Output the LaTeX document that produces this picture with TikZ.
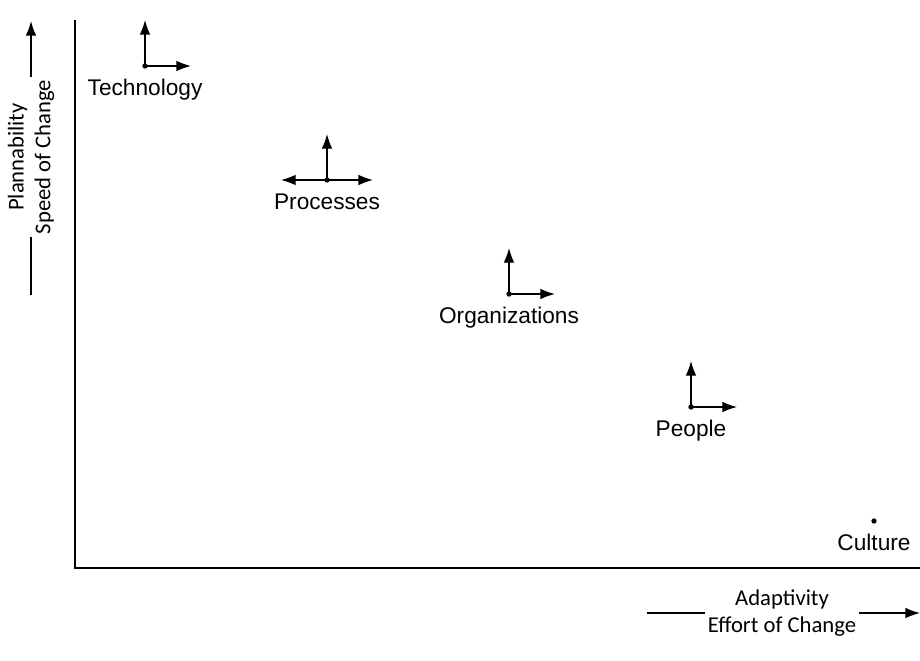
\documentclass[tikz,border=0pt]{standalone}
\usepackage{fontspec}
\setmainfont{Liberation Sans}
\newfontfamily\axisfont{Carlito}
\usetikzlibrary{calc,arrows.meta}

\begin{document}
\begin{tikzpicture}[x=.75pt,y=-.75pt,
    arr/.style={line width=1pt,black,-{Latex[length=11pt,width=8pt]}},
    lbl/.style={anchor=base,inner sep=0pt,font=\fontsize{17}{20}\selectfont},
    axlbl/.style={inner sep=2pt,align=center,font=\axisfont\fontsize{17}{20}\selectfont}]
            \useasboundingbox (0,0) rectangle (920,660);

            % axes
            \coordinate (o) at (75,568);
            \coordinate (ytop) at (75,20);
            \coordinate (xend) at (920,568);
            \draw [line width=.8pt,black] (ytop) -- (o) -- (xend);

            % axis labels
            \node[axlbl,rotate=90] (ylab) at (31,157) {Plannability\\Speed of Change};
            \coordinate (ytip) at (31,21);
            \coordinate (ybot) at (31,295);
            \draw [arr] (ylab.east) -- (ytip);
            \draw [line width=.8pt,black] (ylab.west) -- (ybot);

            \node[axlbl] (xlab) at (782,613) {Adaptivity\\Effort of Change};
            \coordinate (xleft) at (647,613);
            \coordinate (xtip) at (920,613);
            \draw [line width=.8pt,black] (xlab.west) -- (xleft);
            \draw [arr] (xlab.east) -- (xtip);

            % dots and labels
            \foreach \x/\y/\n/\t in {145/66/tech/Technology,327/180/proc/Processes,509/294/org/Organizations,691/407/peop/People,874/521/cult/Culture} {
            \fill[black] (\x,\y) coordinate (d\n) circle (2pt);
            \node[lbl] (l\n) at ($(d\n)+(0,29)$) {\t};}

            % arrows
            \foreach \n in {tech,proc,org,peop} {
            \coordinate (u\n) at ($(d\n)+(0,-46)$);
            \coordinate (r\n) at ($(d\n)+(46,0)$);
            \draw [arr] (d\n) -- (u\n);
            \draw [arr] (d\n) -- (r\n);}
            \coordinate (wproc) at ($(dproc)+(-46,0)$);
            \draw [arr] (dproc) -- (wproc);
\end{tikzpicture}
\end{document}
